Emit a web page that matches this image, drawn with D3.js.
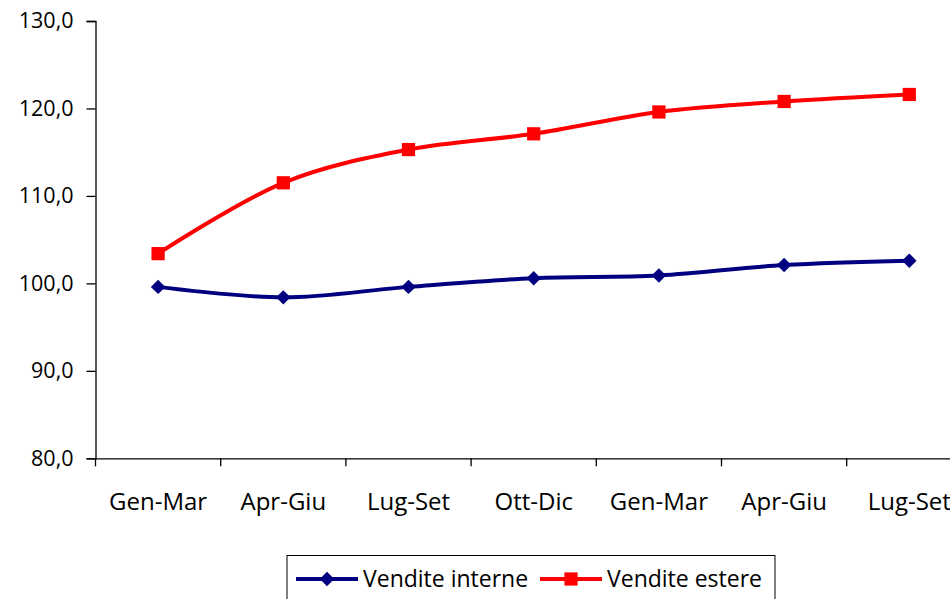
<!DOCTYPE html>
<html>
<head>
<meta charset="utf-8">
<script src="https://cdn.jsdelivr.net/npm/d3@7"></script>
<style>
  html, body { margin: 0; padding: 0; background: #fff; overflow: hidden; }
  svg { display: block; font-family: "Open Sans", "Noto Sans", sans-serif; }
</style>
</head>
<body>
<div id="chart"></div>
<script>
// quarters over two years
const categories = ["Gen-Mar", "Apr-Giu", "Lug-Set", "Ott-Dic", "Gen-Mar", "Apr-Giu", "Lug-Set"];
const venditeInterne = [99.6, 98.4, 99.6, 100.6, 100.9, 102.1, 102.6];
const venditeEstere = [103.4, 111.5, 115.3, 117.1, 119.6, 120.8, 121.6];
const yTicks = [80, 90, 100, 110, 120, 130];

const width = 950, height = 599;
const svg = d3.select("#chart").append("svg")
    .attr("width", width)
    .attr("height", height);

const plotLeft = 95.5, plotTop = 21, plotBottom = 458.3;
const band = 125.2;
const fontFamily = "'Open Sans', 'Noto Sans', sans-serif";

const x = d3.scaleBand()
    .domain(d3.range(categories.length))
    .range([plotLeft, plotLeft + band * categories.length])
    .paddingInner(0).paddingOuter(0);

const y = d3.scaleLinear().domain([80, 130]).range([plotBottom, plotTop]);

// y axis
const yAxis = svg.append("g")
    .attr("transform", `translate(${plotLeft},0)`)
    .call(d3.axisLeft(y).tickValues(yTicks).tickSize(9).tickPadding(13)
        .tickFormat(d => d3.format(".1f")(d).replace(".", ",")));
yAxis.attr("font-size", null).attr("font-family", null);
yAxis.select(".domain").attr("stroke", "#000").attr("stroke-width", 1.3);
yAxis.selectAll(".tick line").attr("stroke", "#000").attr("stroke-width", 1.3);
yAxis.selectAll(".tick text").style("font-size", "21.5px").attr("fill", "#000")
    .style("font-family", fontFamily);

// x axis
const xAxis = svg.append("g")
    .attr("transform", `translate(0,${plotBottom})`)
    .call(d3.axisBottom(x).tickSize(0).tickPadding(35).tickFormat(i => categories[i]));
xAxis.attr("font-size", null).attr("font-family", null);
xAxis.select(".domain").attr("stroke", "#000").attr("stroke-width", 1.3);
xAxis.selectAll(".tick text").style("font-size", "24px").attr("fill", "#000")
    .style("font-family", fontFamily);
xAxis.selectAll(".sep").data(d3.range(categories.length + 1)).join("line")
    .attr("class", "sep")
    .attr("x1", i => plotLeft + band * i).attr("x2", i => plotLeft + band * i)
    .attr("y1", 0).attr("y2", 8)
    .attr("stroke", "#000").attr("stroke-width", 1.3);

const cx = i => x(i) + x.bandwidth() / 2;
const line = d3.line()
    .x((d, i) => cx(i))
    .y(d => y(d))
    .curve(d3.curveCatmullRom.alpha(0.5));

const series = [
    { name: "Vendite interne", values: venditeInterne, color: "#000080", rotate: 45, size: 105 },
    { name: "Vendite estere", values: venditeEstere, color: "#ff0000", rotate: 0, size: 175 }
];

series.forEach(s => {
    svg.append("path")
        .datum(s.values)
        .attr("d", line)
        .attr("fill", "none")
        .attr("stroke", s.color)
        .attr("stroke-width", 4);
    svg.append("g").selectAll("path")
        .data(s.values)
        .join("path")
        .attr("transform", (d, i) => `translate(${cx(i)},${y(d)}) rotate(${s.rotate})`)
        .attr("d", d3.symbol().type(d3.symbolSquare).size(s.size))
        .attr("fill", s.color);
});

// legend
const legend = svg.append("g");
legend.append("rect")
    .attr("x", 287).attr("y", 555.5)
    .attr("width", 488).attr("height", 60)
    .attr("fill", "#fff").attr("stroke", "#000").attr("stroke-width", 1);

const legendX = [296, 540];
series.forEach((s, i) => {
    const g = legend.append("g").attr("transform", `translate(${legendX[i]},579)`);
    g.append("line").attr("x1", 0).attr("x2", 62).attr("y1", 0).attr("y2", 0)
        .attr("stroke", s.color).attr("stroke-width", 4);
    g.append("path")
        .attr("transform", `translate(31,0) rotate(${s.rotate})`)
        .attr("d", d3.symbol().type(d3.symbolSquare).size(s.size))
        .attr("fill", s.color);
    g.append("text")
        .attr("x", 67).attr("y", 0).attr("dy", "0.35em")
        .style("font-size", "23px").attr("fill", "#000")
        .text(s.name);
});
</script>
</body>
</html>
